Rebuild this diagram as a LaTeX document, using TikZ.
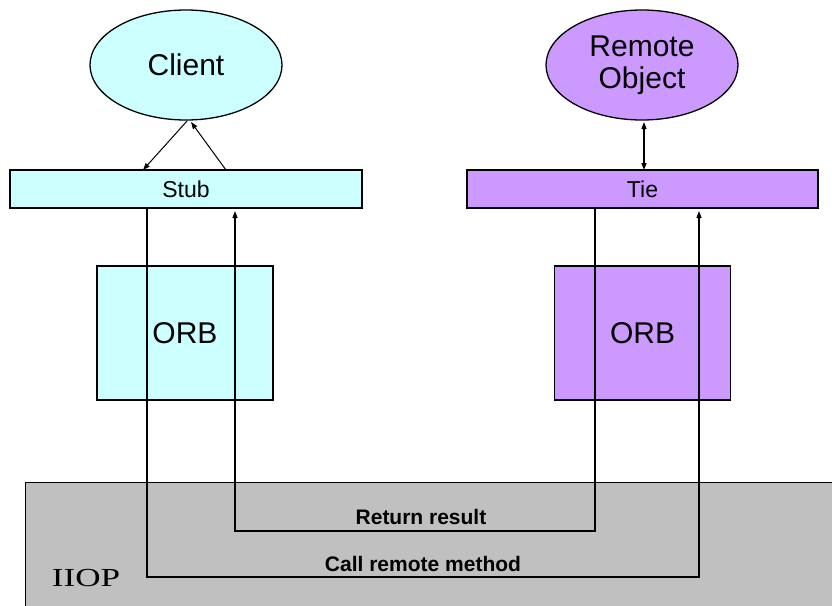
\documentclass[tikz,border=0pt]{standalone}
\usepackage{fontspec}
\setmainfont{Liberation Sans}
\newfontfamily\iiopfont{Liberation Serif}
\usetikzlibrary{arrows.meta,shapes.geometric}

\definecolor{clientcyan}{HTML}{CCFFFF}
\definecolor{serverpurple}{HTML}{CC99FF}
\definecolor{busgray}{HTML}{C0C0C0}

\tikzset{
  outline/.style={draw=black, line width=1.3pt},
  objnode/.style={outline, ellipse, inner sep=0pt, minimum width=192pt, minimum height=110pt,
    align=center, font=\fontsize{30}{34}\selectfont},
  layerbox/.style={outline, rectangle, inner sep=0pt, minimum height=38pt,
    font=\fontsize{23}{26}\selectfont},
  orbbox/.style={outline, rectangle, inner sep=0pt, minimum width=176pt, minimum height=134pt,
    font=\fontsize{30}{34}\selectfont},
  wire/.style={draw=black, line width=1.3pt},
  tip/.style={-{Triangle[length=7pt,width=5pt]}},
  msglabel/.style={font=\bfseries\fontsize{21}{24}\selectfont, inner sep=0pt},
}

\begin{document}
\begin{tikzpicture}[x=1pt, y=-1pt]
  \useasboundingbox (0,0) rectangle (832,605);
  \clip (0,0) rectangle (832,605);

  % ORB boxes (behind the wires)
  \node[orbbox, fill=clientcyan]   (orbL) at (185,333) {ORB};
  \node[orbbox, fill=serverpurple] (orbR) at (642.5,333) {ORB};

  % IIOP bus
  \node[outline, fill=busgray, rectangle, inner sep=0pt,
        minimum width=820pt, minimum height=140pt, anchor=north west] (iiop) at (25,482) {};
  \node[inner sep=0pt, font=\iiopfont\fontsize{26}{28}\selectfont] (iioplbl) at (86,578)
    {\scalebox{1.35}[1]{IIOP}};

  % objects
  \node[objnode, fill=clientcyan]   (client) at (186,65) {Client};
  \node[objnode, fill=serverpurple] (remote) at (642,65) {Remote\\[-2pt]Object};

  % stub and tie layers
  \node[layerbox, fill=clientcyan,   minimum width=352pt] (stub) at (186,189) {Stub};
  \node[layerbox, fill=serverpurple, minimum width=351pt] (tie)  at (642.5,189) {Tie};

  % client <-> stub
  \coordinate (cA) at (187,121);
  \coordinate (sA) at (143,170);
  \coordinate (sB) at (226,170);
  \coordinate (cB) at (191,122);
  \draw[wire, line width=1pt, tip] (cA) -- (sA);
  \draw[wire, line width=1pt, tip] (sB) -- (cB);

  % remote object <-> tie
  \coordinate (rT) at (644,122);
  \coordinate (tT) at (644,170);
  \draw[wire, {Triangle[length=7pt,width=5pt]}-{Triangle[length=7pt,width=5pt]}] (rT) -- (tT);

  % call remote method: stub -> IIOP -> tie
  \coordinate (callA) at (147,208);
  \coordinate (callB) at (147,577);
  \coordinate (callC) at (699,577);
  \coordinate (callD) at (699,211);
  \draw[wire, tip] (callA) -- (callB) -- (callC) -- (callD);

  % return result: tie -> IIOP -> stub
  \coordinate (retA) at (595,208);
  \coordinate (retB) at (595,531);
  \coordinate (retC) at (235,531);
  \coordinate (retD) at (235,211);
  \draw[wire, tip] (retA) -- (retB) -- (retC) -- (retD);

  % message labels
  \node[msglabel] (retlbl)  at (421,517) {Return result};
  \node[msglabel] (calllbl) at (423,564) {Call remote method};
\end{tikzpicture}
\end{document}
